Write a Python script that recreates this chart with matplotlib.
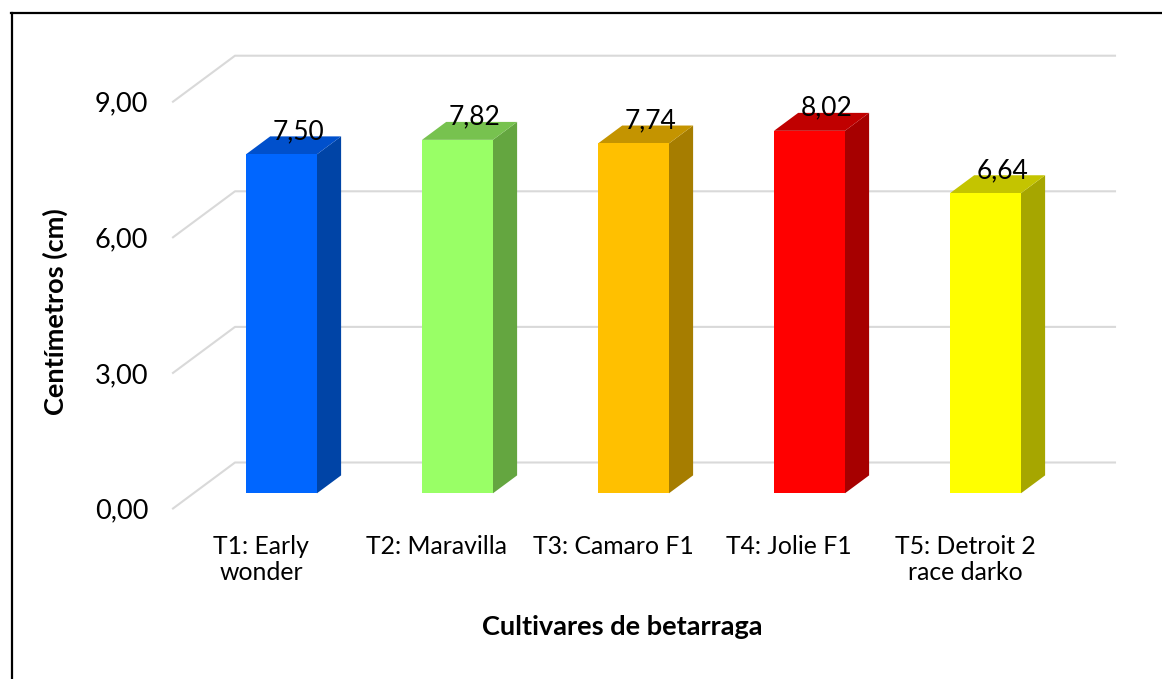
import matplotlib.pyplot as plt
from matplotlib.patches import Polygon
from matplotlib.lines import Line2D

plt.rcParams['font.family'] = ['Lato', 'DejaVu Sans']

categories = ['T1: Early\nwonder', 'T2: Maravilla', 'T3: Camaro F1', 'T4: Jolie F1', 'T5: Detroit 2\nrace darko']
values = [7.50, 7.82, 7.74, 8.02, 6.64]
front_colors = ['#0066FF', '#99FF66', '#FFC000', '#FF0000', '#FFFF00']
side_colors = ['#0044A6', '#64A640', '#A67D00', '#A60000', '#A6A600']
top_colors = ['#0050CC', '#77C24F', '#C49400', '#C00000', '#C4C400']
yticks = [0, 3, 6, 9]

W, H = 1162, 679
# 3D depth offsets in data units
DX = 62 / 176
DY = 46 / 45.2
d0, d1 = 0.33, 0.72
bw = 0.403


def proj(x, y, d):
    return (x + d * DX, y + d * DY)


def fmt(v):
    return f'{v:.2f}'.replace('.', ',')


fig = plt.figure(figsize=(W / 100, H / 100), dpi=100)
ax = fig.add_axes([173 / W, (H - 508.5) / H, 942 / W, 456.5 / H])
ax.set_xlim(-0.5, 4.5 + DX)
ax.set_ylim(0, 456.5 / 45.2)
for s in ax.spines.values():
    s.set_visible(False)

# back wall gridlines with floor diagonals
for v in yticks:
    xs = [-0.5, -0.5 + DX, 4.5 + DX]
    ys = [v, v + DY, v + DY]
    ax.plot(xs, ys, color='#D9D9D9', lw=1.5, zorder=1, clip_on=False)

for i, v in enumerate(values):
    c = i
    xl, xr = c - bw / 2, c + bw / 2
    front = [proj(xl, 0, d0), proj(xr, 0, d0), proj(xr, v, d0), proj(xl, v, d0)]
    side = [proj(xr, 0, d0), proj(xr, 0, d1), proj(xr, v, d1), proj(xr, v, d0)]
    top = [proj(xl, v, d0), proj(xr, v, d0), proj(xr, v, d1), proj(xl, v, d1)]
    ax.add_patch(Polygon(side, closed=True, facecolor=side_colors[i], edgecolor='none', zorder=3))
    ax.add_patch(Polygon(top, closed=True, facecolor=top_colors[i], edgecolor='none', zorder=3))
    ax.add_patch(Polygon(front, closed=True, facecolor=front_colors[i], edgecolor='none', zorder=4))
    lx, ly = proj(c, v, 0.6)
    ax.text(lx, v + d1 * DY - 0.06, fmt(v), ha='center', va='baseline',
            fontsize=19, color='black', zorder=5)

ax.set_yticks(yticks)
ax.set_yticklabels([fmt(v) for v in yticks], fontsize=19.5)
ax.set_xticks(range(len(categories)))
ax.set_xticklabels(categories, fontsize=17.8, linespacing=1.15)
ax.tick_params(axis='y', length=0, pad=18)
ax.tick_params(axis='x', length=0, pad=19)

fig.text(55 / W, 1 - 312 / H, 'Centímetros (cm)', rotation=90, ha='center', va='center',
         fontsize=19.5, fontweight='bold')
fig.text(622 / W, 1 - 627 / H, 'Cultivares de betarraga', ha='center', va='center',
         fontsize=19.5, fontweight='bold')

# chart border (left and top visible)
fig.add_artist(Line2D([11.5 / W, 11.5 / W], [0, 1 - 12.5 / H], color='black', lw=1.6,
                      transform=fig.transFigure))
fig.add_artist(Line2D([11 / W, 1], [1 - 12.5 / H, 1 - 12.5 / H], color='black', lw=1.6,
                      transform=fig.transFigure))

fig.savefig('out.png', dpi=100)
